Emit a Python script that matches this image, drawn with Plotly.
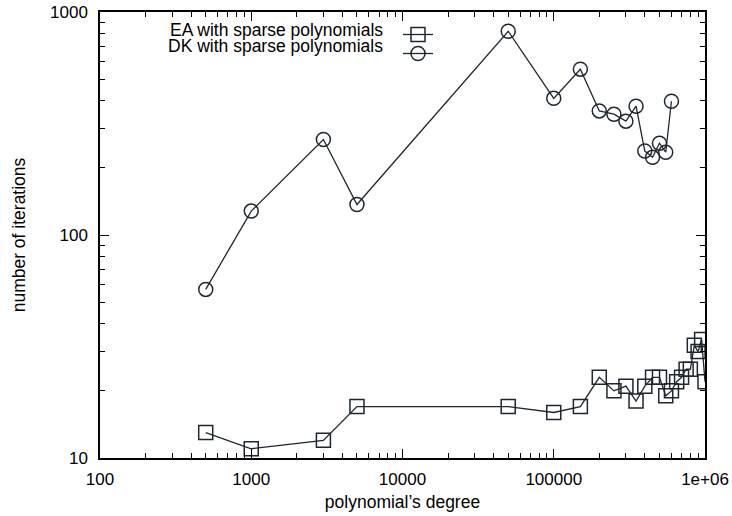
import plotly.graph_objects as go

# Data
ea_x = [500, 1000, 3000, 5000, 50000, 100000, 150000, 200000, 250000, 300000,
        350000, 400000, 450000, 500000, 550000, 600000, 650000, 700000, 750000,
        800000, 850000, 900000, 950000, 1000000]
ea_y = [13, 11, 12, 17, 17, 16, 17, 23, 20, 21,
        18, 21, 23, 23, 19, 20, 22, 23, 25,
        25, 32, 30, 34, 22]

dk_x = [500, 1000, 3000, 5000, 50000, 100000, 150000, 200000, 250000, 300000,
        350000, 400000, 450000, 500000, 550000, 600000]
dk_y = [57, 128, 268, 137, 820, 410, 554, 360, 348, 324,
        378, 238, 223, 258, 235, 398]

x_ticks = [100, 1000, 10000, 100000, 1000000]
x_tick_labels = ["100", "1000", "10000", "100000", "1e+06"]
y_ticks = [10, 100, 1000]
y_tick_labels = ["10", "100", "1000"]

names = ["EA with sparse polynomials", "DK with sparse polynomials"]

COL = "#1e2630"
FONT = "Liberation Sans"
FS = 17

x_minor = [m * 10 ** e for e in range(2, 6) for m in range(2, 10)]
y_minor = [m * 10 ** e for e in range(1, 3) for m in range(2, 10)]

fig = go.Figure()
fig.add_trace(go.Scatter(
    x=ea_x, y=ea_y, mode="lines+markers", name=" ",
    line=dict(color=COL, width=1.3),
    marker=dict(symbol="square-open", size=14, color=COL, line=dict(width=1.5, color=COL)),
))
fig.add_trace(go.Scatter(
    x=dk_x, y=dk_y, mode="lines+markers", name=" ",
    line=dict(color=COL, width=1.3),
    marker=dict(symbol="circle-open", size=14, color=COL, line=dict(width=1.5, color=COL)),
))

W, H = 732, 516
L, R, T, B = 100, 27, 12, 58
pw = W - L - R
ph = H - T - B

def px_x(p):
    return (p - L) / pw

def px_y(p):
    return 1 - (p - T) / ph

row_y = [30, 46]
for i, nm in enumerate(names):
    fig.add_annotation(
        x=px_x(385), y=px_y(row_y[i]), xref="paper", yref="paper",
        text=nm, showarrow=False, xanchor="right", yanchor="middle",
        font=dict(family=FONT, size=17.5, color="black"),
    )

fig.update_layout(
    width=W, height=H,
    margin=dict(l=L, r=R, t=T, b=B, autoexpand=False),
    paper_bgcolor="white", plot_bgcolor="white",
    font=dict(family=FONT, size=FS, color="black"),
    showlegend=True,
    legend=dict(x=px_x(398), y=px_y(20), xanchor="left", yanchor="top",
                bgcolor="rgba(0,0,0,0)", font=dict(size=11), tracegroupgap=0,
                itemwidth=30),
    xaxis=dict(
        type="log", range=[2, 6], showgrid=False, zeroline=False,
        showline=True, linecolor="black", linewidth=1.5, mirror="ticks",
        ticks="inside", ticklen=9, tickwidth=1, tickcolor="black",
        tickvals=x_ticks, ticktext=x_tick_labels, ticklabelstandoff=5,
        minor=dict(ticks="inside", ticklen=5, tickwidth=1, tickcolor="black",
                   tickvals=x_minor, showgrid=False),
        title=dict(text="polynomial\u2019s degree", standoff=8,
                   font=dict(size=17.5)),
        automargin=False,
    ),
    yaxis=dict(
        type="log", range=[1, 3], showgrid=False, zeroline=False,
        showline=True, linecolor="black", linewidth=1.5, mirror="ticks",
        ticks="inside", ticklen=9, tickwidth=1, tickcolor="black",
        tickvals=y_ticks, ticktext=y_tick_labels, ticklabelstandoff=7,
        minor=dict(ticks="inside", ticklen=5, tickwidth=1, tickcolor="black",
                   tickvals=y_minor, showgrid=False),
        title=dict(text="number of iterations", standoff=20,
                   font=dict(size=17.5)),
        automargin=False,
    ),
)

fig.write_html(
    "out.html",
    config={"displayModeBar": False},
    post_script="document.body.style.margin='0';document.body.style.overflow='hidden';",
)
